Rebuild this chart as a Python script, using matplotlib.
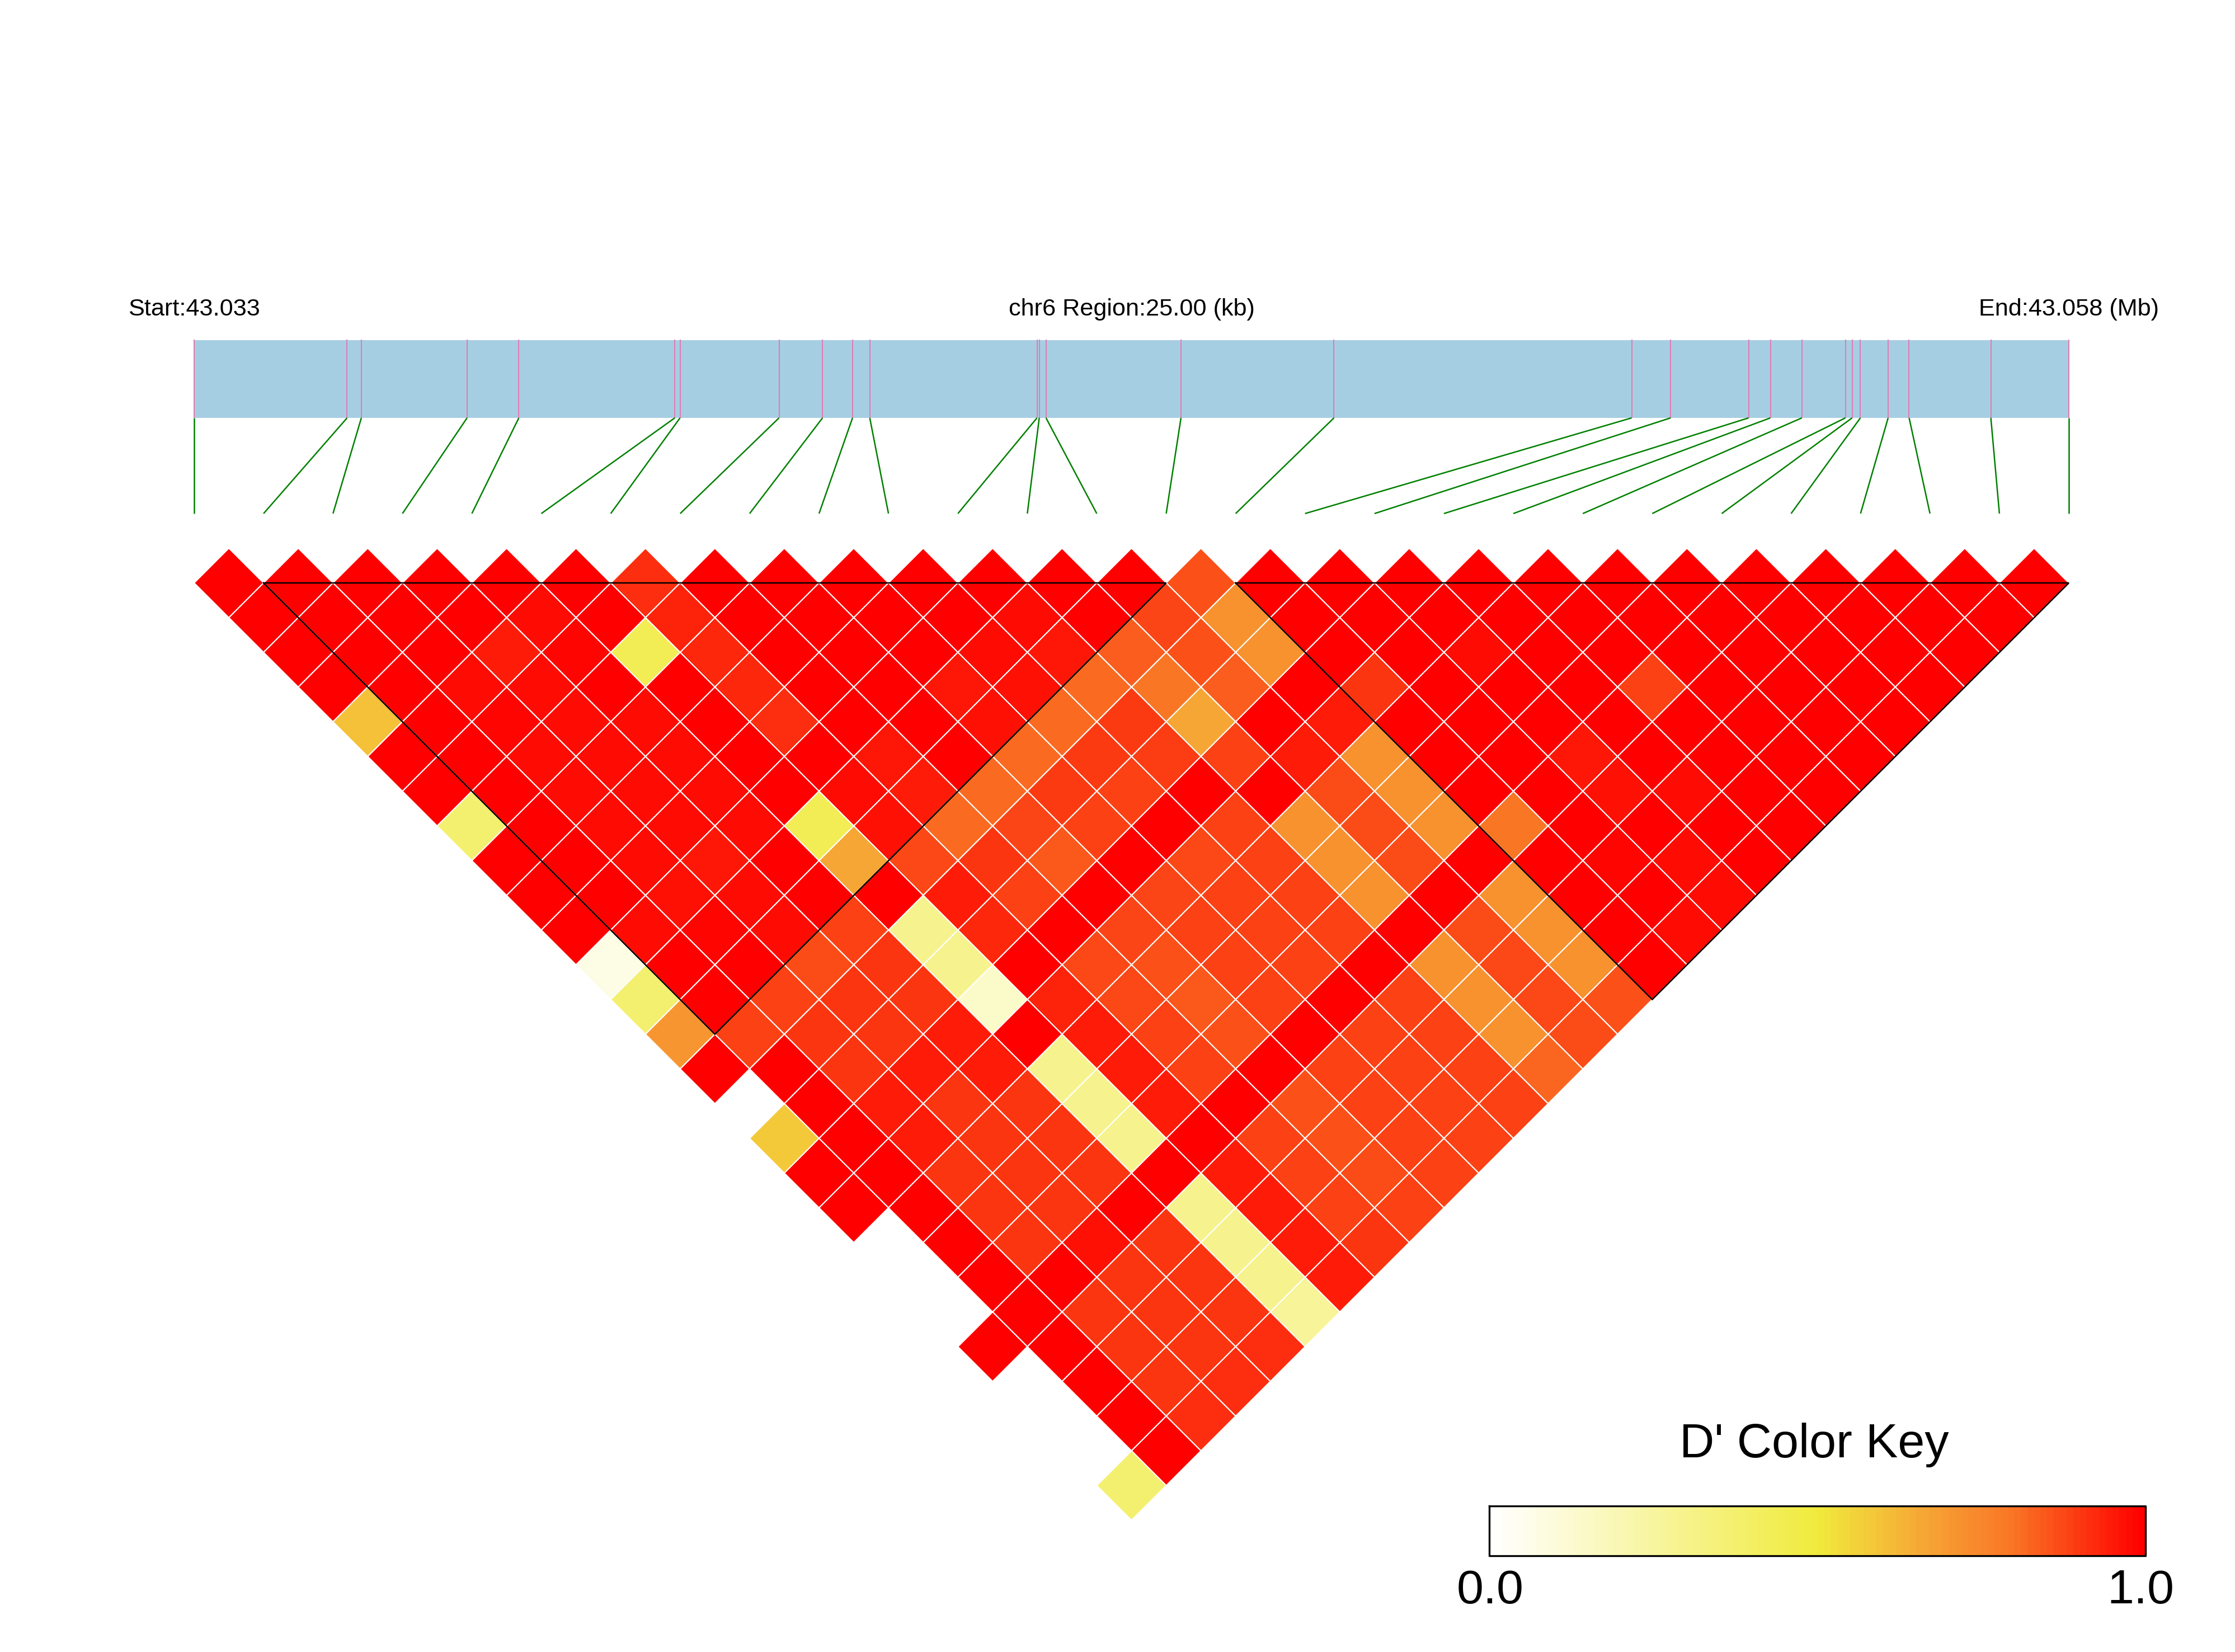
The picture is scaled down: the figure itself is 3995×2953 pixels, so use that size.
"""LD heatmap of D' over chr6:43.033-43.058 Mb, with SNP track and colour key."""
import matplotlib

matplotlib.use("Agg")
import matplotlib.pyplot as plt
import numpy as np
from matplotlib.collections import LineCollection, PolyCollection
from matplotlib.colors import LinearSegmentedColormap

plt.rcParams["font.family"] = ["Liberation Sans", "DejaVu Sans"]

WIDTH, HEIGHT, DPI = 3995, 2953, 300

# SNP positions, kb from region start
SNP_KB = [0.00, 2.04, 2.23, 3.64, 4.33, 6.41, 6.48, 7.80, 8.38, 8.78, 9.01, 11.24, 11.27, 11.36,
          13.16, 15.20, 19.17, 19.69, 20.73, 21.02, 21.44, 22.02, 22.11, 22.22, 22.59, 22.87,
          23.96, 25.00]
BLOCKS = [(1, 14), (15, 27)]  # first and last SNP of each haplotype block

START_LABEL = "Start:43.033"
REGION_LABEL = "chr6 Region:25.00 (kb)"
END_LABEL = "End:43.058 (Mb)"
KEY_TITLE = "D' Color Key"
KEY_TICKS = ["0.0", "1.0"]

NA = np.nan
# D' per SNP distance: DPRIME[k][i] is the pair (i, i + k + 1)
D01 = [1, 1, 1, 1, 1, 1, .92, 1, 1, 1, 1, 1, 1, 1, .86, 1, 1, 1, 1, 1, 1, 1, 1, 1, 1, 1, 1]
D02 = [1, 1, 1, 1, .98, 1, .94, 1, 1, 1, 1, .98, 1, .88, .72, 1, 1, 1, 1, 1, 1, 1, 1, 1, 1, 1]
D03 = [1, 1, 1, .95, .99, .44, .93, 1, 1, 1, .98, .96, .84, .86, .72, 1, 1, .98, 1, 1, 1, 1, 1, 1, 1]
D04 = [1, 1, .98, .98, 1, 1, .93, 1, 1, .96, .97, .82, .8, .84, 1, .91, 1, 1, 1, .89, 1, 1, 1, 1]
D05 = [.6, 1, .99, .98, .98, 1, .92, 1, 1, .97, .82, .9, .665, 1, .95, 1, 1, 1, 1, 1, 1, 1, 1]
D06 = [1, 1, .98, .98, .98, 1, 1, .96, 1, .82, .9, .895, .89, .95, .72, 1, 1, .96, 1, 1, 1, 1]
D07 = [1, 1, .98, .98, .98, 1, .98, .95, .82, .9, .89, 1, 1, .87, .72, 1, 1, .97, .98, 1, 1]
D08 = [.37, 1, .98, .98, .98, .44, .97, .82, .88, .89, 1, .89, .72, .87, .72, .8, 1, 1, 1, 1]
D09 = [1, 1, .98, .96, 1, .665, .875, .91, .85, 1, .875, .89, .72, .87, 1, 1, .99, .98, 1]
D10 = [1, 1, .97, .98, 1, 1, .95, .89, 1, .88, .89, .89, .72, 1, .72, 1, 1, .98]
D11 = [1, .98, .99, .98, .89, .29, .93, 1, .88, .89, .89, .89, 1, .87, .72, 1, .98]
D12 = [.07, 1, 1, .87, .91, .29, 1, .875, .86, .89, .89, 1, .72, .875, .72, 1]
D13 = [.37, 1, .89, .91, .91, .14, .94, .875, .85, .89, 1, .89, .72, .875, .86]
D14 = [.71, .89, .91, .91, .95, 1, .95, .89, .86, 1, .89, .89, .72, .87]
D15 = [1, 1, .91, .95, .95, .29, .95, .89, 1, .89, .89, .89, .825]
D16 = [NA, 1, .95, .91, .91, .29, .95, 1, .86, .89, .89, .89]
D17 = [.58, 1, .95, .91, .91, .29, 1, .89, .86, .89, .89]
D18 = [1, 1, .91, .91, .91, 1, .95, .89, .87, .89]
D19 = [1, 1, .91, .91, 1, .29, .95, .89, .89]
D20 = [NA, 1, .91, .97, .91, .29, .95, .91]
D21 = [NA, 1, 1, .91, .91, .29, .95]
D22 = [NA, 1, .91, .91, .91, .265]
D23 = [1, 1, .91, .91, .92]
D24 = [NA, 1, .91, .92]
D25 = [NA, 1, .92]
D26 = [NA, 1]
D27 = [.37]
DPRIME = [D01, D02, D03, D04, D05, D06, D07, D08, D09, D10, D11, D12, D13, D14, D15, D16, D17,
          D18, D19, D20, D21, D22, D23, D24, D25, D26, D27]

# layout, in image pixels
TRACK_LEFT, TRACK_RIGHT = 347, 3698
TRACK_TOP, TRACK_BOTTOM = 608, 747
LINK_BOTTOM = 918
GRID_TOP = 1042
KEY_LEFT, KEY_RIGHT, KEY_TOP, KEY_BOTTOM = 2662, 3835, 2692, 2781

cmap = LinearSegmentedColormap.from_list("dprime", [
    (0.0, "#FFFFFF"), (0.5, "#F0EB3C"), (0.66, "#F6A836"), (0.8, "#F97625"), (1.0, "#FF0000")])

fig = plt.figure(figsize=(WIDTH / DPI, HEIGHT / DPI), dpi=DPI)
ax = fig.add_axes([0, 0, 1, 1])
ax.set_xlim(0, WIDTH)
ax.set_ylim(HEIGHT, 0)
ax.axis("off")

n_snp = len(SNP_KB)
step = (TRACK_RIGHT - TRACK_LEFT) / (n_snp - 1)
half = step / 2
track_x = TRACK_LEFT + np.array(SNP_KB) / SNP_KB[-1] * (TRACK_RIGHT - TRACK_LEFT)
grid_x = TRACK_LEFT + np.arange(n_snp) * step

# SNP track
ax.fill_between([TRACK_LEFT, TRACK_RIGHT], TRACK_TOP, TRACK_BOTTOM, color="#A6CEE3", lw=0)
ax.vlines(track_x, TRACK_TOP - 1, TRACK_BOTTOM, color="#E07DB4", lw=0.5)
links = [[(x0, TRACK_BOTTOM), (x1, LINK_BOTTOM)] for x0, x1 in zip(track_x, grid_x)]
ax.add_collection(LineCollection(links, colors="#008000", lw=0.6))

ax.text(TRACK_LEFT, 553, START_LABEL, ha="center", va="center", fontsize=10.4)
ax.text((TRACK_LEFT + TRACK_RIGHT) / 2, 553, REGION_LABEL, ha="center", va="center", fontsize=10.4)
ax.text(TRACK_RIGHT, 553, END_LABEL, ha="center", va="center", fontsize=10.4)

# LD cells
polys, vals = [], []
for k, row in enumerate(DPRIME):
    for i, v in enumerate(row):
        if np.isnan(v):
            continue
        cx = grid_x[i] + (k + 1) * half
        cy = GRID_TOP + k * half
        polys.append([(cx - half, cy), (cx, cy - half), (cx + half, cy), (cx, cy + half)])
        vals.append(v)
cells = PolyCollection(polys, array=np.array(vals), cmap=cmap, clim=(0, 1),
                       edgecolors="white", linewidths=0.5)
ax.add_collection(cells)

# haplotype block outlines
for first, last in BLOCKS:
    x0, x1 = grid_x[first], grid_x[last]
    tip_y = GRID_TOP + (last - first) * half
    ax.plot([x0, x1, (x0 + x1) / 2, x0], [GRID_TOP, GRID_TOP, tip_y, GRID_TOP],
            color="black", lw=0.6, solid_joinstyle="miter")

# colour key
levels = np.linspace(0, 1, 100)
edges = np.linspace(KEY_LEFT, KEY_RIGHT, 101)
ax.pcolormesh(edges, [KEY_TOP, KEY_BOTTOM], levels[None, :], cmap=cmap, vmin=0, vmax=1)
ax.plot([KEY_LEFT, KEY_RIGHT, KEY_RIGHT, KEY_LEFT, KEY_LEFT],
        [KEY_TOP, KEY_TOP, KEY_BOTTOM, KEY_BOTTOM, KEY_TOP], color="black", lw=0.8)
ax.text((KEY_LEFT + KEY_RIGHT) / 2 - 6, 2605, KEY_TITLE, ha="center", va="baseline", fontsize=20.7)
ax.text(KEY_LEFT + 2, 2866, KEY_TICKS[0], ha="center", va="baseline", fontsize=20.7)
ax.text(KEY_RIGHT - 9, 2866, KEY_TICKS[1], ha="center", va="baseline", fontsize=20.7)

ax.set_xlim(0, WIDTH)
ax.set_ylim(HEIGHT, 0)
fig.savefig("out.png", dpi=DPI, facecolor="white")
plt.close(fig)
